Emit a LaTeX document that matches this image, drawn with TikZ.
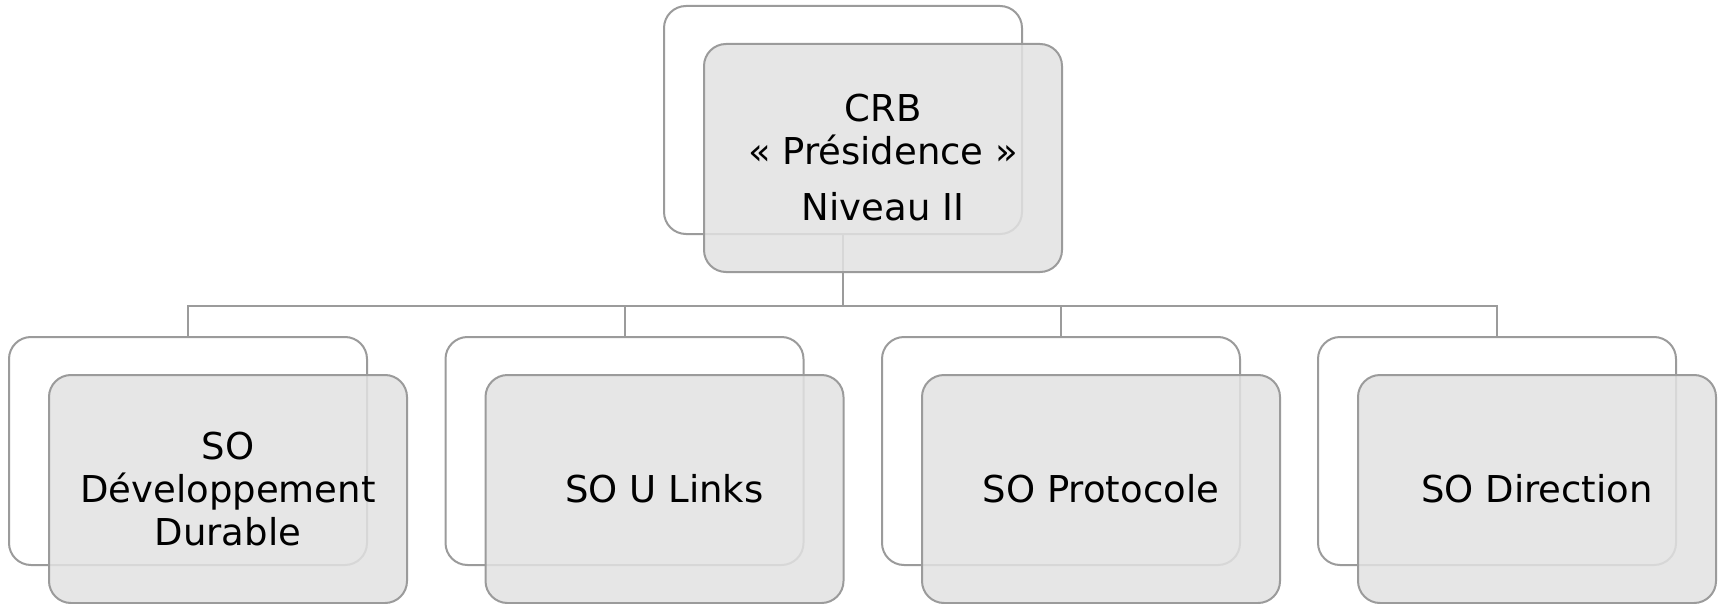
\documentclass[tikz,border=0pt]{standalone}
\usepackage{fontspec}
\setmainfont{DejaVu Sans}
\usepackage{xcolor}
\usetikzlibrary{positioning,calc,backgrounds}

\definecolor{boxline}{RGB}{155,155,155}
\definecolor{boxfill}{RGB}{226,226,226}

\begin{document}
\begin{tikzpicture}[
    x=0.5pt, y=-0.5pt,
    backbox/.style={draw=boxline, fill=white, line width=1pt, rounded corners=11pt,
      minimum width=179pt, minimum height=114pt},
    frontbox/.style={backbox, fill=boxfill, fill opacity=0.85, text opacity=1,
      align=center, font=\fontsize{18.5}{21.5}\selectfont},
    link/.style={draw=boxline, line width=1pt}
  ]
\useasboundingbox (0,0) rectangle (1727,604);

% Top unit
\node[backbox] (topbk) at (843,120) {};
\node[frontbox] (topfr) at ($(topbk.center)+(40,38)$)
  {CRB\\« Présidence »\\[6.5pt]Niveau II};

% Bottom units
\foreach \x/\txt [count=\i] in {188/{SO\\Développement\\Durable},
                                 624.5/{SO U Links},
                                 1061/{SO Protocole},
                                 1497/{SO Direction}} {
  \node[backbox] (bk\i) at (\x,451) {};
  \node[frontbox] (fr\i) at ($(bk\i.center)+(40,38)$) {\txt};
}

% Connectors (under the boxes)
\begin{scope}[on background layer]
  \coordinate (bar) at ($(topbk.south)+(0,71)$);
  \draw[link] (topbk.south) -- (bar);
  \foreach \i in {1,...,4} {
    \draw[link] (bar) -| (bk\i.north);
  }
\end{scope}

\end{tikzpicture}
\end{document}
